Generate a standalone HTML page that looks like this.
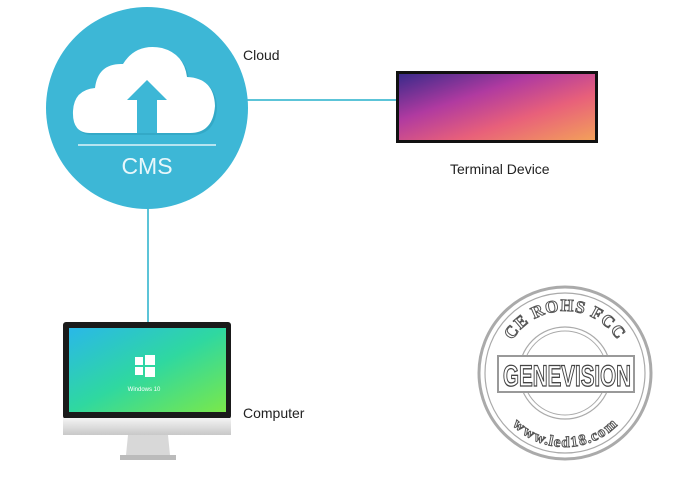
<!DOCTYPE html>
<html><head><style>
body{margin:0;width:680px;height:485px;background:#fff;position:relative;overflow:hidden;font-family:"Liberation Sans",sans-serif}
.a{position:absolute}
</style></head><body>
<svg class="a" style="left:0;top:0" width="680" height="485">
<defs>
<linearGradient id="tg" x1="0" y1="0" x2="1" y2="1">
<stop offset="0" stop-color="#3a2a8a"/><stop offset="0.35" stop-color="#b03aa0"/><stop offset="0.65" stop-color="#e8607a"/><stop offset="1" stop-color="#f3a05a"/></linearGradient>
<linearGradient id="sg" x1="0" y1="0" x2="1" y2="1">
<stop offset="0" stop-color="#2ab8e8"/><stop offset="0.5" stop-color="#2fd8a0"/><stop offset="1" stop-color="#7ae84a"/></linearGradient>
<linearGradient id="ch" x1="0" y1="0" x2="0" y2="1"><stop offset="0" stop-color="#f4f4f4"/><stop offset="1" stop-color="#c8c8c8"/></linearGradient>
</defs>
<line x1="240" y1="100" x2="397" y2="100" stroke="#5cc4d8" stroke-width="2"/>
<line x1="148" y1="200" x2="148" y2="323" stroke="#5cc4d8" stroke-width="2"/>
<circle cx="147" cy="108" r="101" fill="#3db7d6"/>
<path d="M90 133 Q72 133 73 111 Q74 90 95 88 Q98 63 123 64 Q136 43 162 48 Q184 54 187 77 Q214 78 215 106 Q213 133 190 133 Z" fill="#2a9bb8" opacity="0.5" transform="translate(2,2)"/>
<path d="M90 133 Q72 133 73 111 Q74 90 95 88 Q98 63 123 64 Q136 43 162 48 Q184 54 187 77 Q214 78 215 106 Q213 133 190 133 Z" fill="#fff"/>
<polygon points="147,80 127,100 137,100 137,133 157,133 157,100 167,100" fill="#3db7d6"/>
<line x1="78" y1="145" x2="216" y2="145" stroke="#dff3f8" stroke-width="1.5"/>
<text x="147" y="174" font-size="23" fill="#e8f7fb" text-anchor="middle" font-family="Liberation Sans">CMS</text>
<rect x="396" y="71" width="202" height="72" fill="#111"/>
<rect x="399" y="74" width="196" height="66" fill="url(#tg)"/>
<rect x="63" y="322" width="168" height="97" rx="3" fill="#1a1a1a"/>
<rect x="69" y="328" width="157" height="84" fill="url(#sg)"/>
<rect x="63" y="418" width="168" height="17" fill="url(#ch)"/>
<polygon points="128,435 168,435 170,455 126,455" fill="#d8d8d8"/>
<rect x="120" y="455" width="56" height="5" fill="#bbb"/>
<g fill="#fff"><rect x="135" y="357" width="8" height="8"/><rect x="145" y="355" width="10" height="10"/><rect x="135" y="367" width="8" height="8"/><rect x="145" y="367" width="10" height="10"/></g>
<text x="144" y="391" font-size="6" fill="#fff" text-anchor="middle">Windows 10</text>
<g fill="none" stroke="#aaa">
<circle cx="565" cy="373" r="86" stroke-width="3"/>
<circle cx="565" cy="373" r="80" stroke-width="1.2"/>
<circle cx="565" cy="373" r="46" stroke-width="1.2"/>
<circle cx="565" cy="373" r="42" stroke-width="1"/>
</g>
<rect x="498" y="356" width="136" height="36" fill="#fff" stroke="#999" stroke-width="2"/>
<text x="567" y="386" font-size="30" fill="#fff" stroke="#444" stroke-width="1.3" text-anchor="middle" font-family="Liberation Sans" font-weight="bold" textLength="128" lengthAdjust="spacingAndGlyphs">GENEVISION</text>
<path id="ta" d="M503 373 A62 62 0 0 1 627 373" fill="none"/>
<path id="ba" d="M503 373 A62 62 0 0 0 627 373" fill="none"/>
<text font-size="17" font-weight="bold" font-family="Liberation Serif" fill="#fff" stroke="#555" stroke-width="1" letter-spacing="1"><textPath href="#ta" startOffset="50%" text-anchor="middle">CE ROHS FCC</textPath></text>
<text font-size="15" font-weight="bold" font-family="Liberation Serif" fill="#fff" stroke="#555" stroke-width="1" dy="12"><textPath href="#ba" startOffset="50%" text-anchor="middle">www.led18.com</textPath></text>
</svg>
<div class="a" style="left:243px;top:47px;font-size:14px;color:#222">Cloud</div>
<div class="a" style="left:450px;top:161px;font-size:14px;color:#222">Terminal Device</div>
<div class="a" style="left:243px;top:405px;font-size:14px;color:#222">Computer</div>
</body></html>
